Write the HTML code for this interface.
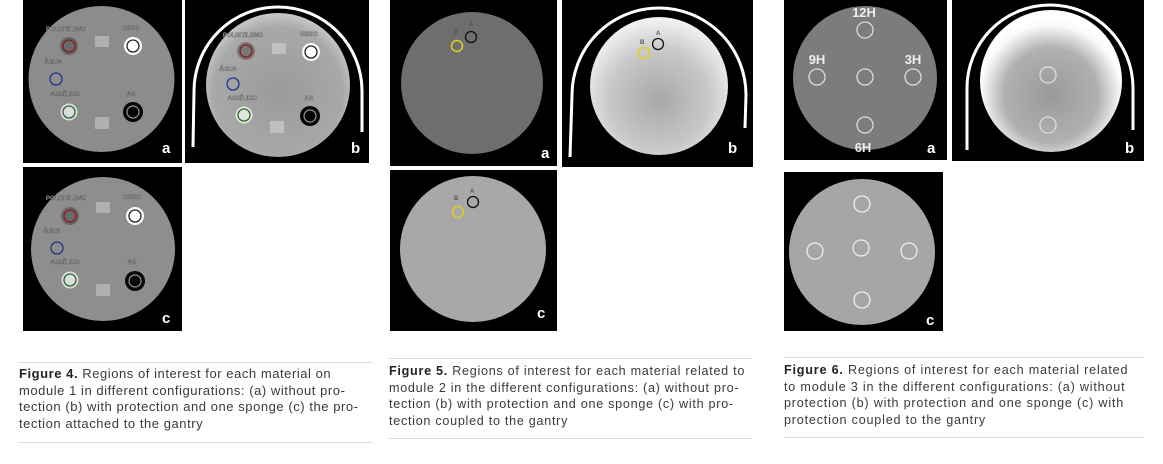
<!DOCTYPE html>
<html><head><meta charset="utf-8"><style>
body{margin:0;width:1163px;height:464px;background:#fff;position:relative;overflow:hidden;font-family:"Liberation Sans",sans-serif}
svg{position:absolute;left:0;top:0}
.cap{position:absolute;color:#3a3a3a;font-size:12.6px;line-height:16.7px;border-top:1px solid #ddd;border-bottom:1px solid #ddd;white-space:nowrap}
.cap b{color:#222}
</style></head><body>
<svg width="1163" height="464" viewBox="0 0 1163 464">
<defs>
<radialGradient id="g5b" cx="0.5" cy="0.6" r="0.6"><stop offset="0" stop-color="#a8a8a8"/><stop offset="0.6" stop-color="#c8c8c8"/><stop offset="1" stop-color="#f4f4f4"/></radialGradient>
<radialGradient id="g6b" cx="0.5" cy="0.6" r="0.55"><stop offset="0" stop-color="#9a9a9a"/><stop offset="0.6" stop-color="#b0b0b0"/><stop offset="0.9" stop-color="#fafafa"/><stop offset="1" stop-color="#fff"/></radialGradient>
<radialGradient id="g4b" cx="0.5" cy="0.55" r="0.6"><stop offset="0" stop-color="#9a9a9a"/><stop offset="0.75" stop-color="#a8a8a8"/><stop offset="1" stop-color="#dadada"/></radialGradient>
</defs>
<g font-family="Liberation Sans" font-weight="bold">
<rect x="23" y="0" width="159" height="163" fill="#000"/>
<circle cx="101.5" cy="79" r="73" fill="#8c8c8c"/>
<rect x="185" y="0" width="184" height="163" fill="#000"/>
<circle cx="278" cy="85" r="72" fill="url(#g4b)"/>
<path d="M193,147 L194,91 A84,84 0 0 1 362,91 L362,132" fill="none" stroke="#fff" stroke-width="3"/>
<rect x="23" y="167" width="159" height="164" fill="#000"/>
<circle cx="103" cy="249" r="72" fill="#8e8e8e"/>
<circle cx="69" cy="46" r="9" fill="#666"/><circle cx="69" cy="46" r="6" fill="#6a6a6a" stroke="#8a1a1a" stroke-width="1.3"/>
<circle cx="133" cy="46" r="9" fill="#fff"/><circle cx="133" cy="46" r="6" fill="#fff" stroke="#222" stroke-width="1.3"/>
<circle cx="56" cy="79" r="6" fill="none" stroke="#223388" stroke-width="1.3"/>
<circle cx="69" cy="112" r="8.5" fill="#ddd"/><circle cx="69" cy="112" r="6" fill="none" stroke="#2a6a2a" stroke-width="1.3"/>
<circle cx="133" cy="112" r="10" fill="#050505"/><circle cx="133" cy="112" r="6" fill="none" stroke="#999" stroke-width="1.2"/>
<g font-size="6" fill="#bbb" stroke="#333" stroke-width="0.3"><text x="66" y="31" text-anchor="middle">POLIETILENO</text><text x="131" y="30" text-anchor="middle">OSSO</text><text x="53" y="64" text-anchor="middle">ÁGUA</text><text x="65" y="96" text-anchor="middle">ACRÍLICO</text><text x="131" y="96" text-anchor="middle">AR</text></g>
<rect x="95" y="36" width="14" height="11" fill="#b0b0b0"/><rect x="95" y="117" width="14" height="12" fill="#b0b0b0"/>
<circle cx="246" cy="51" r="9" fill="#777"/><circle cx="246" cy="51" r="6" fill="#777" stroke="#8a1a1a" stroke-width="1.3"/>
<circle cx="311" cy="52" r="9" fill="#fff"/><circle cx="311" cy="52" r="6" fill="#fff" stroke="#222" stroke-width="1.3"/>
<circle cx="233" cy="84" r="6" fill="none" stroke="#223388" stroke-width="1.3"/>
<circle cx="244" cy="115" r="8.5" fill="#e4e4e4"/><circle cx="244" cy="115" r="6" fill="none" stroke="#2a6a2a" stroke-width="1.3"/>
<circle cx="310" cy="116" r="10" fill="#050505"/><circle cx="310" cy="116" r="6" fill="none" stroke="#999" stroke-width="1.2"/>
<g font-size="6" fill="#ccc" stroke="#333" stroke-width="0.3"><text x="243" y="37" text-anchor="middle">POLIETILENO</text><text x="309" y="36" text-anchor="middle">OSSO</text><text x="228" y="71" text-anchor="middle">ÁGUA</text><text x="242" y="100" text-anchor="middle">ACRÍLICO</text><text x="309" y="100" text-anchor="middle">AR</text></g>
<rect x="272" y="43" width="14" height="11" fill="#c0c0c0"/><rect x="270" y="121" width="14" height="12" fill="#c0c0c0"/>
<circle cx="70" cy="216" r="9" fill="#666"/><circle cx="70" cy="216" r="6" fill="#6a6a6a" stroke="#8a1a1a" stroke-width="1.3"/>
<circle cx="135" cy="216" r="9" fill="#fff"/><circle cx="135" cy="216" r="6" fill="#fff" stroke="#222" stroke-width="1.3"/>
<circle cx="57" cy="248" r="6" fill="none" stroke="#223388" stroke-width="1.3"/>
<circle cx="70" cy="280" r="8.5" fill="#ddd"/><circle cx="70" cy="280" r="6" fill="none" stroke="#2a6a2a" stroke-width="1.3"/>
<circle cx="135" cy="281" r="10" fill="#050505"/><circle cx="135" cy="281" r="6" fill="none" stroke="#999" stroke-width="1.2"/>
<g font-size="6" fill="#bbb" stroke="#333" stroke-width="0.3"><text x="66" y="200" text-anchor="middle">POLIETILENO</text><text x="132" y="199" text-anchor="middle">OSSO</text><text x="52" y="233" text-anchor="middle">ÁGUA</text><text x="65" y="264" text-anchor="middle">ACRÍLICO</text><text x="132" y="264" text-anchor="middle">AR</text></g>
<rect x="96" y="202" width="14" height="11" fill="#b0b0b0"/><rect x="96" y="284" width="14" height="12" fill="#b0b0b0"/>
<g fill="#fff" font-size="15"><text x="162" y="153">a</text><text x="351" y="153">b</text><text x="162" y="323">c</text></g>

<rect x="390" y="0" width="167" height="166" fill="#000"/>
<circle cx="472" cy="83" r="71" fill="#6e6e6e"/>
<circle cx="457" cy="46" r="5.5" fill="none" stroke="#e0d020" stroke-width="1.5"/>
<circle cx="471" cy="37" r="5.5" fill="none" stroke="#111" stroke-width="1.3"/>
<rect x="562" y="0" width="191" height="167" fill="#000"/>
<circle cx="659" cy="86" r="69" fill="url(#g5b)"/>
<path d="M570,157 L572,95 A87,87 0 0 1 746,95 L745,128" fill="none" stroke="#fff" stroke-width="3"/>
<circle cx="644" cy="53" r="5.5" fill="none" stroke="#e0d020" stroke-width="1.5"/>
<circle cx="658" cy="44" r="5.5" fill="none" stroke="#111" stroke-width="1.3"/>
<rect x="390" y="170" width="167" height="161" fill="#000"/>
<circle cx="473" cy="249" r="73" fill="#a8a8a8"/>
<circle cx="458" cy="212" r="5.5" fill="none" stroke="#e0d020" stroke-width="1.5"/>
<circle cx="473" cy="202" r="5.5" fill="none" stroke="#111" stroke-width="1.3"/>
<g font-size="6" fill="#555"><text x="454" y="34">B</text><text x="469" y="26">A</text><text x="640" y="44">B</text><text x="656" y="35">A</text><text x="454" y="200">B</text><text x="470" y="193">A</text></g>
<g fill="#fff" font-size="15"><text x="541" y="158">a</text><text x="728" y="153">b</text><text x="537" y="318">c</text></g>

<rect x="784" y="0" width="163" height="160" fill="#000"/>
<circle cx="865" cy="78" r="72" fill="#7c7c7c"/>
<g fill="none" stroke="#ddd" stroke-width="1.3"><circle cx="865" cy="30" r="8"/><circle cx="817" cy="77" r="8"/><circle cx="865" cy="77" r="8"/><circle cx="913" cy="77" r="8"/><circle cx="865" cy="125" r="8"/></g>
<g fill="#eee" font-size="13" text-anchor="middle"><text x="864" y="17">12H</text><text x="817" y="64">9H</text><text x="913" y="64">3H</text><text x="863" y="152">6H</text></g>
<rect x="952" y="0" width="192" height="161" fill="#000"/>
<circle cx="1051" cy="81" r="71" fill="url(#g6b)"/>
<path d="M967,150 L967,88 A83,83 0 0 1 1133,88 L1133,130" fill="none" stroke="#fff" stroke-width="3"/>
<g fill="none" stroke="#ddd" stroke-width="1.3"><circle cx="1048" cy="75" r="8"/><circle cx="1048" cy="125" r="8"/></g>
<rect x="784" y="172" width="159" height="159" fill="#000"/>
<circle cx="862" cy="252" r="73" fill="#a6a6a6"/>
<g fill="none" stroke="#eee" stroke-width="1.3"><circle cx="862" cy="204" r="8"/><circle cx="815" cy="251" r="8"/><circle cx="861" cy="248" r="8"/><circle cx="909" cy="251" r="8"/><circle cx="862" cy="300" r="8"/></g>
<g fill="#fff" font-size="15"><text x="927" y="153">a</text><text x="1125" y="153">b</text><text x="926" y="325">c</text></g>
</g>
</svg>
<div class="cap" style="left:18px;top:362px;width:354px;height:70px;padding:3px 0 6px 1px;font-size:13px;letter-spacing:0.55px">
<b>Figure 4.</b> Regions of interest for each material on<br>module 1 in different configurations: (a) without pro-<br>tection (b) with protection and one sponge (c) the pro-<br>tection attached to the gantry</div>
<div class="cap" style="left:388px;top:358px;width:364px;height:70px;padding:4px 0 5px 1px;letter-spacing:0.72px">
<b>Figure 5.</b> Regions of interest for each material related to<br>module 2 in the different configurations: (a) without pro-<br>tection (b) with protection and one sponge (c) with pro-<br>tection coupled to the gantry</div>
<div class="cap" style="left:783px;top:357px;width:360px;height:70px;padding:4px 0 5px 1px;letter-spacing:0.8px">
<b>Figure 6.</b> Regions of interest for each material related<br>to module 3 in the different configurations: (a) without<br>protection (b) with protection and one sponge (c) with<br>protection coupled to the gantry</div>
</body></html>
